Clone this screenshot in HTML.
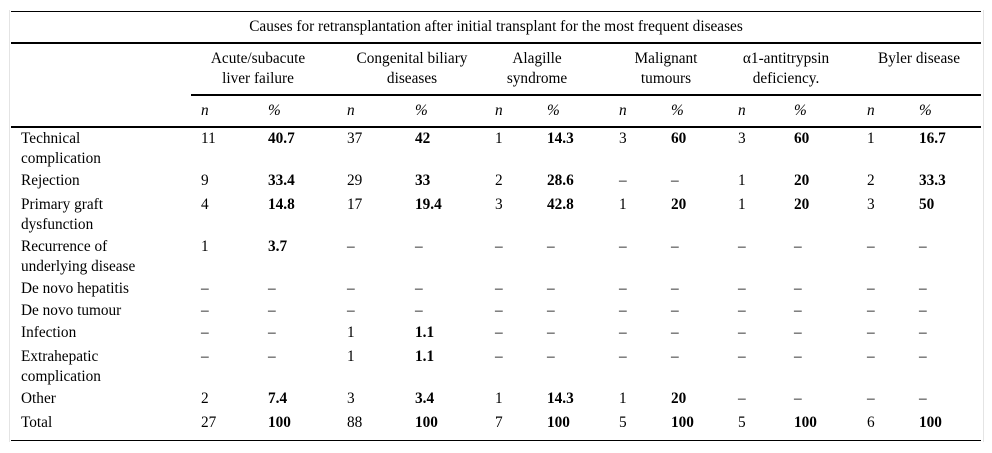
<!DOCTYPE html>
<html><head><meta charset="utf-8"><style>
body{margin:0;background:#fff;width:992px;height:453px;position:relative;overflow:hidden;font-family:"Liberation Serif",serif;font-size:15.3px;color:#000}
.t{position:absolute;white-space:nowrap;line-height:20px}
.c{transform:translateX(-50%);text-align:center}
.b{font-weight:bold}
.i{font-style:italic}
.l{position:absolute;background:#000}
</style></head><body>
<div style="position:absolute;left:9px;top:10px;width:1px;height:432px;background:#e4e4e4"></div>
<div style="position:absolute;left:983px;top:10px;width:1px;height:432px;background:#e4e4e4"></div>
<div class="l" style="left:11px;top:11px;width:970px;height:1px"></div>
<div class="l" style="left:11px;top:42px;width:970px;height:2px"></div>
<div class="l" style="left:191px;top:94px;width:790px;height:2px"></div>
<div class="l" style="left:11px;top:126px;width:970px;height:2px"></div>
<div class="l" style="left:11px;top:440px;width:970px;height:1px"></div>
<div class="t c" style="left:496px;top:17px">Causes for retransplantation after initial transplant for the most frequent diseases</div>
<div class="t c" style="left:258px;top:49px">Acute/subacute<br>liver failure</div>
<div class="t c" style="left:412px;top:49px">Congenital biliary<br>diseases</div>
<div class="t c" style="left:537px;top:49px">Alagille<br>syndrome</div>
<div class="t c" style="left:666px;top:49px">Malignant<br>tumours</div>
<div class="t c" style="left:786px;top:49px">α1-antitrypsin<br>deficiency.</div>
<div class="t c" style="left:919px;top:49px">Byler disease</div>
<div class="t i" style="left:201px;top:101px">n</div><div class="t i" style="left:268px;top:101px">%</div>
<div class="t i" style="left:347px;top:101px">n</div><div class="t i" style="left:415px;top:101px">%</div>
<div class="t i" style="left:495px;top:101px">n</div><div class="t i" style="left:547px;top:101px">%</div>
<div class="t i" style="left:619px;top:101px">n</div><div class="t i" style="left:671px;top:101px">%</div>
<div class="t i" style="left:738px;top:101px">n</div><div class="t i" style="left:794px;top:101px">%</div>
<div class="t i" style="left:867px;top:101px">n</div><div class="t i" style="left:919px;top:101px">%</div>

<div class="t" style="left:21px;top:129px">Technical<br>complication</div>
<div class="t" style="left:21px;top:171px">Rejection</div>
<div class="t" style="left:21px;top:195px">Primary graft<br>dysfunction</div>
<div class="t" style="left:21px;top:237px">Recurrence of<br>underlying disease</div>
<div class="t" style="left:21px;top:279px">De novo hepatitis</div>
<div class="t" style="left:21px;top:301px">De novo tumour</div>
<div class="t" style="left:21px;top:323px">Infection</div>
<div class="t" style="left:21px;top:347px">Extrahepatic<br>complication</div>
<div class="t" style="left:21px;top:389px">Other</div>
<div class="t" style="left:21px;top:413px">Total</div>

<div class="t" style="left:201px;top:129px">11</div><div class="t b" style="left:268px;top:129px">40.7</div><div class="t" style="left:347px;top:129px">37</div><div class="t b" style="left:415px;top:129px">42</div><div class="t" style="left:495px;top:129px">1</div><div class="t b" style="left:547px;top:129px">14.3</div><div class="t" style="left:619px;top:129px">3</div><div class="t b" style="left:671px;top:129px">60</div><div class="t" style="left:738px;top:129px">3</div><div class="t b" style="left:794px;top:129px">60</div><div class="t" style="left:867px;top:129px">1</div><div class="t b" style="left:919px;top:129px">16.7</div>

<div class="t" style="left:201px;top:171px">9</div><div class="t b" style="left:268px;top:171px">33.4</div><div class="t" style="left:347px;top:171px">29</div><div class="t b" style="left:415px;top:171px">33</div><div class="t" style="left:495px;top:171px">2</div><div class="t b" style="left:547px;top:171px">28.6</div><div class="t" style="left:619px;top:171px">–</div><div class="t" style="left:671px;top:171px">–</div><div class="t" style="left:738px;top:171px">1</div><div class="t b" style="left:794px;top:171px">20</div><div class="t" style="left:867px;top:171px">2</div><div class="t b" style="left:919px;top:171px">33.3</div>

<div class="t" style="left:201px;top:195px">4</div><div class="t b" style="left:268px;top:195px">14.8</div><div class="t" style="left:347px;top:195px">17</div><div class="t b" style="left:415px;top:195px">19.4</div><div class="t" style="left:495px;top:195px">3</div><div class="t b" style="left:547px;top:195px">42.8</div><div class="t" style="left:619px;top:195px">1</div><div class="t b" style="left:671px;top:195px">20</div><div class="t" style="left:738px;top:195px">1</div><div class="t b" style="left:794px;top:195px">20</div><div class="t" style="left:867px;top:195px">3</div><div class="t b" style="left:919px;top:195px">50</div>

<div class="t" style="left:201px;top:237px">1</div><div class="t b" style="left:268px;top:237px">3.7</div><div class="t" style="left:347px;top:237px">–</div><div class="t" style="left:415px;top:237px">–</div><div class="t" style="left:495px;top:237px">–</div><div class="t" style="left:547px;top:237px">–</div><div class="t" style="left:619px;top:237px">–</div><div class="t" style="left:671px;top:237px">–</div><div class="t" style="left:738px;top:237px">–</div><div class="t" style="left:794px;top:237px">–</div><div class="t" style="left:867px;top:237px">–</div><div class="t" style="left:919px;top:237px">–</div>

<div class="t" style="left:201px;top:279px">–</div><div class="t" style="left:268px;top:279px">–</div><div class="t" style="left:347px;top:279px">–</div><div class="t" style="left:415px;top:279px">–</div><div class="t" style="left:495px;top:279px">–</div><div class="t" style="left:547px;top:279px">–</div><div class="t" style="left:619px;top:279px">–</div><div class="t" style="left:671px;top:279px">–</div><div class="t" style="left:738px;top:279px">–</div><div class="t" style="left:794px;top:279px">–</div><div class="t" style="left:867px;top:279px">–</div><div class="t" style="left:919px;top:279px">–</div>

<div class="t" style="left:201px;top:301px">–</div><div class="t" style="left:268px;top:301px">–</div><div class="t" style="left:347px;top:301px">–</div><div class="t" style="left:415px;top:301px">–</div><div class="t" style="left:495px;top:301px">–</div><div class="t" style="left:547px;top:301px">–</div><div class="t" style="left:619px;top:301px">–</div><div class="t" style="left:671px;top:301px">–</div><div class="t" style="left:738px;top:301px">–</div><div class="t" style="left:794px;top:301px">–</div><div class="t" style="left:867px;top:301px">–</div><div class="t" style="left:919px;top:301px">–</div>

<div class="t" style="left:201px;top:323px">–</div><div class="t" style="left:268px;top:323px">–</div><div class="t" style="left:347px;top:323px">1</div><div class="t b" style="left:415px;top:323px">1.1</div><div class="t" style="left:495px;top:323px">–</div><div class="t" style="left:547px;top:323px">–</div><div class="t" style="left:619px;top:323px">–</div><div class="t" style="left:671px;top:323px">–</div><div class="t" style="left:738px;top:323px">–</div><div class="t" style="left:794px;top:323px">–</div><div class="t" style="left:867px;top:323px">–</div><div class="t" style="left:919px;top:323px">–</div>

<div class="t" style="left:201px;top:347px">–</div><div class="t" style="left:268px;top:347px">–</div><div class="t" style="left:347px;top:347px">1</div><div class="t b" style="left:415px;top:347px">1.1</div><div class="t" style="left:495px;top:347px">–</div><div class="t" style="left:547px;top:347px">–</div><div class="t" style="left:619px;top:347px">–</div><div class="t" style="left:671px;top:347px">–</div><div class="t" style="left:738px;top:347px">–</div><div class="t" style="left:794px;top:347px">–</div><div class="t" style="left:867px;top:347px">–</div><div class="t" style="left:919px;top:347px">–</div>

<div class="t" style="left:201px;top:389px">2</div><div class="t b" style="left:268px;top:389px">7.4</div><div class="t" style="left:347px;top:389px">3</div><div class="t b" style="left:415px;top:389px">3.4</div><div class="t" style="left:495px;top:389px">1</div><div class="t b" style="left:547px;top:389px">14.3</div><div class="t" style="left:619px;top:389px">1</div><div class="t b" style="left:671px;top:389px">20</div><div class="t" style="left:738px;top:389px">–</div><div class="t" style="left:794px;top:389px">–</div><div class="t" style="left:867px;top:389px">–</div><div class="t" style="left:919px;top:389px">–</div>

<div class="t" style="left:201px;top:413px">27</div><div class="t b" style="left:268px;top:413px">100</div><div class="t" style="left:347px;top:413px">88</div><div class="t b" style="left:415px;top:413px">100</div><div class="t" style="left:495px;top:413px">7</div><div class="t b" style="left:547px;top:413px">100</div><div class="t" style="left:619px;top:413px">5</div><div class="t b" style="left:671px;top:413px">100</div><div class="t" style="left:738px;top:413px">5</div><div class="t b" style="left:794px;top:413px">100</div><div class="t" style="left:867px;top:413px">6</div><div class="t b" style="left:919px;top:413px">100</div>
</body></html>
